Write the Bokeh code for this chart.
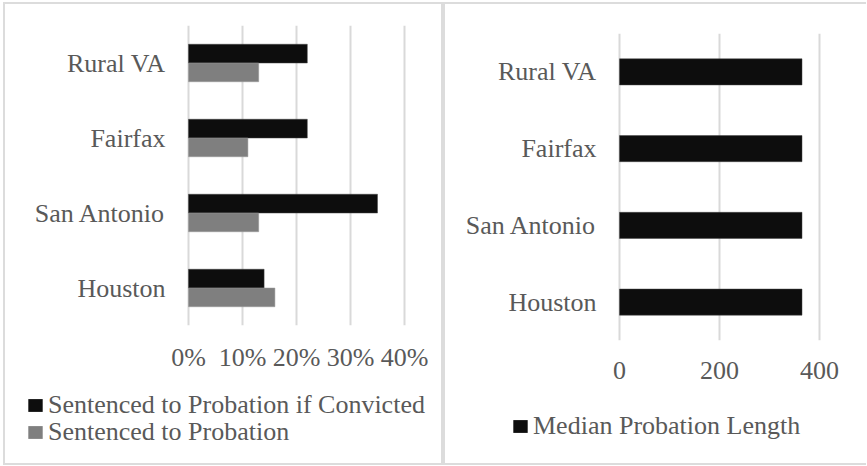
from bokeh.plotting import figure
from bokeh.layouts import row, column
from bokeh.models import (FactorRange, Range1d, FixedTicker, NumeralTickFormatter,
                          Legend, LegendItem, ColumnDataSource)
from bokeh.transform import dodge
from bokeh.embed import file_html
from bokeh.resources import INLINE

# ---- data ----
cities = ["Houston", "San Antonio", "Fairfax", "Rural VA"]
prob_if_convicted = [0.14, 0.35, 0.22, 0.22]
prob_sentenced = [0.16, 0.13, 0.11, 0.13]
median_length = [365, 365, 365, 365]
pct_ticks = [0, 0.1, 0.2, 0.3, 0.4]
len_ticks = [0, 200, 400]
label_conv = "Sentenced to Probation if Convicted"
label_prob = "Sentenced to Probation"
label_med = "Median Probation Length"

FONT = "Liberation Serif"
TXT = "#595959"
GRID = "#d9d9d9"
BORDER = "#dcdcdc"
BLACK = "#0d0d0d"
GRAY = "#7f7f7f"
FS = "26px"

src = ColumnDataSource(dict(city=cities, conv=prob_if_convicted,
                            prob=prob_sentenced, med=median_length))

CH = 386   # chart canvas height
LH = 73    # legend canvas height
PAD = 2    # px of frame beyond first/last gridline so edge gridlines are not clipped


def padded_range(lo, hi, frame_px):
    unit = (hi - lo) / frame_px
    return Range1d(lo - PAD * unit, hi + PAD * unit)


def style(p, ticks):
    p.frame_align = False
    p.outline_line_color = None
    p.ygrid.grid_line_color = None
    p.xgrid.grid_line_color = GRID
    p.xgrid.grid_line_width = 2
    p.xaxis.ticker = FixedTicker(ticks=ticks)
    for ax in (p.xaxis[0], p.yaxis[0]):
        ax.axis_line_color = None
        ax.major_tick_line_color = None
        ax.minor_tick_line_color = None
        ax.major_label_text_font = FONT
        ax.major_label_text_font_size = FS
        ax.major_label_text_color = TXT
    p.yaxis.major_label_standoff = 17 - PAD


def legend_fig(width, entries, standoff):
    # a small figure holding only the legend; its renderers share the data
    # but are hidden, so only the legend swatches are drawn
    lf = figure(width=width, height=LH, x_range=Range1d(0, 1),
                y_range=FactorRange(*cities),
                x_axis_type=None, y_axis_type=None, output_backend="svg",
                toolbar_location=None, min_border=0)
    lf.frame_align = False
    lf.outline_line_color = None
    lf.grid.visible = False
    for label, col, fill, loc in entries:
        r = lf.hbar(y="city", right=col, height=0.5, source=src,
                    fill_color=fill, line_color=None, visible=False)
        lf.add_layout(Legend(items=[LegendItem(label=label, renderers=[r])],
                             location=loc, padding=0, margin=0, spacing=0,
                             label_standoff=standoff, glyph_width=18, glyph_height=16,
                             label_height=20, label_text_font=FONT,
                             label_text_font_size=FS, label_text_color=TXT,
                             border_line_color=None, background_fill_alpha=0,
                             inactive_fill_alpha=0),
                      "center")
    return lf


# ---- left panel ----
p1 = figure(width=436, height=CH, y_range=FactorRange(*cities),
            x_range=padded_range(0, 0.4, 216), output_backend="svg",
            toolbar_location=None,
            min_border_left=183 - PAD, min_border_right=37 - PAD, min_border_top=21,
            min_border_bottom=65)
style(p1, pct_ticks)
p1.xaxis.formatter = NumeralTickFormatter(format="0%")
p1.xaxis.major_label_standoff = 11

p1.hbar(y=dodge("city", 0.125, range=p1.y_range), right="conv", height=0.25,
        source=src, fill_color=BLACK, line_color="#444444", line_width=0.5)
p1.hbar(y=dodge("city", -0.125, range=p1.y_range), right="prob", height=0.25,
        source=src, fill_color=GRAY, line_color="#999999", line_width=0.5)
l1 = legend_fig(436, [(label_conv, "conv", BLACK, (21, 43)),
                      (label_prob, "prob", GRAY, (21, 16))], 4)

# ---- right panel ----
p2 = figure(width=421, height=CH, y_range=FactorRange(*cities),
            x_range=padded_range(0, 400, 200), output_backend="svg",
            toolbar_location=None,
            min_border_left=174 - PAD, min_border_right=47 - PAD, min_border_top=29,
            min_border_bottom=50)
style(p2, len_ticks)
p2.xaxis.major_label_standoff = 15

p2.hbar(y="city", right="med", height=0.34, source=src,
        fill_color=BLACK, line_color="#444444", line_width=0.5)
l2 = legend_fig(421, [(label_med, "med", BLACK, (66, 22))], 4)

col1 = column(p1, l1, spacing=0, margin=(2, 2, 2, 2),
              styles={"background-color": "white"})
col2 = column(p2, l2, spacing=0, margin=(2, 0, 2, 2),
              styles={"background-color": "white"})
layout = row(col1, col2, spacing=0, margin=(2, 0, 0, 3),
             styles={"background-color": BORDER})

open("out.html", "w").write(file_html(layout, INLINE))
